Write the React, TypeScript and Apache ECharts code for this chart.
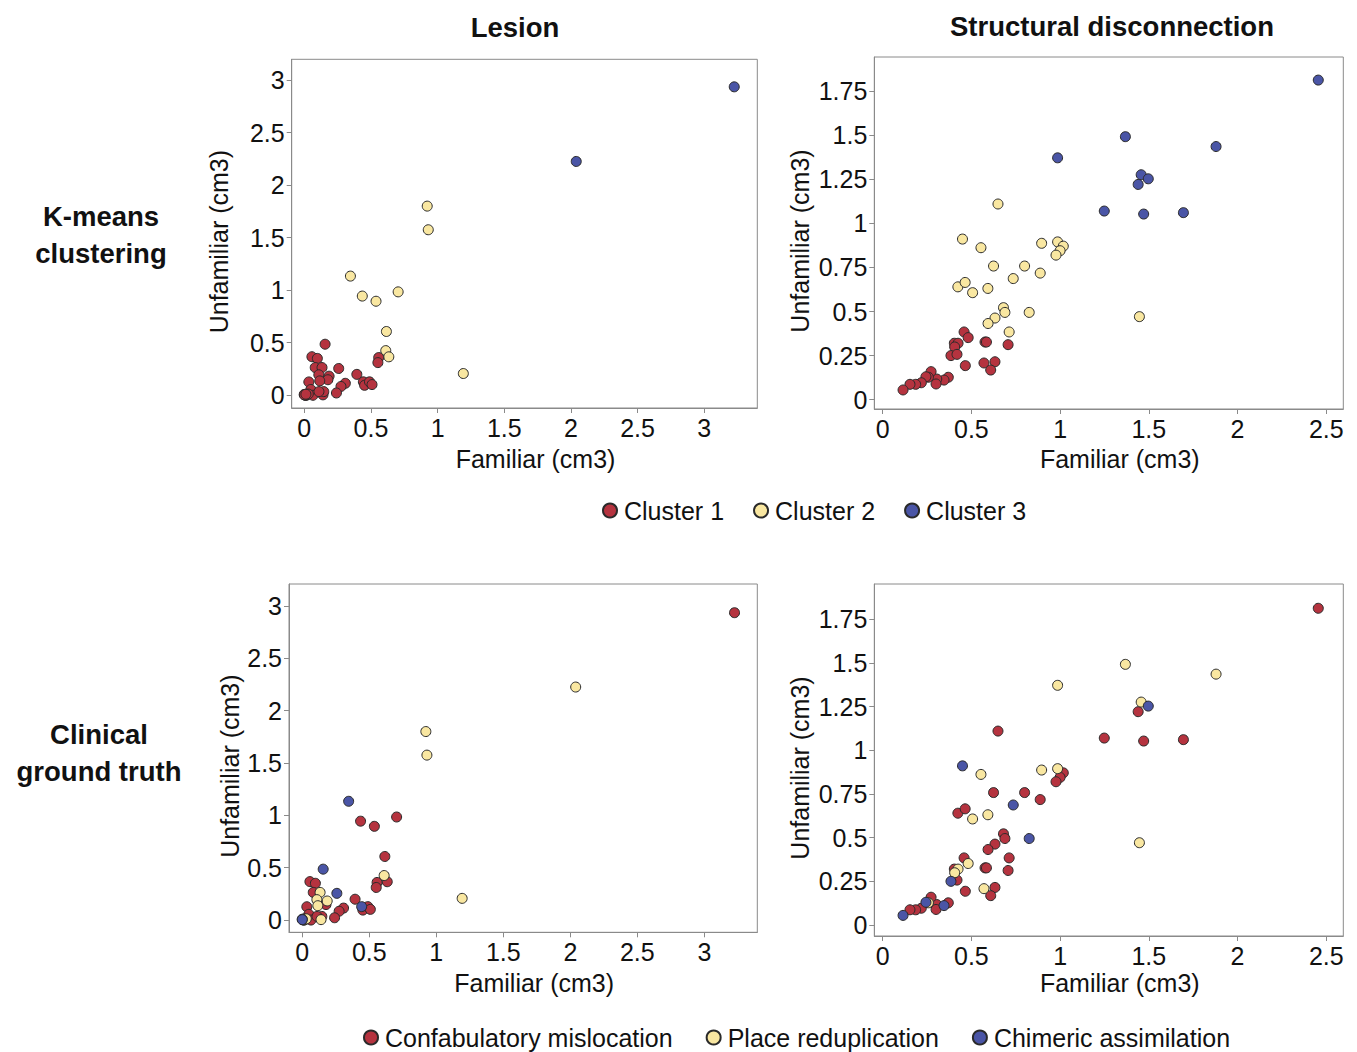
import React, { useEffect, useRef } from "react";
import * as echarts from "echarts";

// ---- Categories ----
const clusterNames = ["Cluster 1", "Cluster 2", "Cluster 3"];
const clinicalNames = ["Confabulatory mislocation", "Place reduplication", "Chimeric assimilation"];
const classColors = ["#B5333F", "#F9E7A1", "#4A55A6"];

// ---- Lesion (cm3) ----
const lesionFamiliar = [
  3.225, 2.04, 0.922, 0.93, 0.346, 0.435, 0.538, 0.704, 0.616, 0.611, 0.634, 1.193,
  0.558, 0.552, 0.156, 0.057, 0.098, 0.082, 0.133, 0.258, 0.109, 0.186, 0.177, 0.116,
  0.034, 0.394, 0.443, 0.452, 0.489, 0.508, 0.308, 0.275, 0.241, 0.049, 0.0, 0.015,
  0.065, 0.14, 0.146, 0.11, 0.005, 0.02, 0.01, 0.03, 0.0, 0.012,
];
const lesionUnfamiliar = [
  2.935, 2.225, 1.8, 1.575, 1.134, 0.944, 0.895, 0.984, 0.607, 0.425, 0.366, 0.207,
  0.359, 0.311, 0.486, 0.367, 0.351, 0.264, 0.264, 0.255, 0.195, 0.182, 0.148, 0.137,
  0.127, 0.199, 0.128, 0.095, 0.128, 0.102, 0.114, 0.084, 0.022, 0.055, 0.008, 0.0,
  0.0, 0.004, 0.035, 0.035, 0.002, 0.006, 0.0, 0.012, 0.004, 0.01,
];
const lesionCluster = [
  3, 3, 2, 2, 2, 2, 2, 2, 2, 2, 2, 2,
  1, 1, 1, 1, 1, 1, 1, 1, 1, 1, 1, 1,
  1, 1, 1, 1, 1, 1, 1, 1, 1, 1, 1, 1,
  1, 1, 1, 1, 1, 1, 1, 1, 1, 1,
];
const lesionClinical = [
  1, 2, 2, 2, 3, 1, 1, 1, 1, 2, 1, 2,
  1, 1, 3, 1, 1, 1, 2, 3, 2, 2, 1, 2,
  1, 1, 3, 1, 1, 1, 1, 1, 1, 1, 3, 1,
  1, 2, 1, 1, 1, 2, 1, 2, 3, 1,
];

// ---- Structural disconnection (cm3) ----
const discFamiliar = [
  2.455, 1.368, 1.879, 0.986, 1.457, 1.497, 1.44, 1.249, 1.471, 1.695,
  0.65, 0.45, 0.554, 0.896, 0.986, 1.018, 1.0, 0.977, 0.625, 0.8, 0.888, 0.736,
  0.424, 0.465, 0.507, 0.593, 0.681, 0.689, 0.826, 1.447, 0.633, 0.594, 0.713,
  0.459, 0.482, 0.404, 0.425, 0.406, 0.577, 0.585, 0.707, 0.385, 0.419, 0.466, 0.571,
  0.633, 0.609, 0.37, 0.346, 0.305, 0.273, 0.258, 0.244, 0.301, 0.218, 0.186, 0.154, 0.115,
];
const discUnfamiliar = [
  1.813, 1.492, 1.436, 1.372, 1.276, 1.253, 1.221, 1.07, 1.053, 1.061,
  1.11, 0.911, 0.862, 0.887, 0.895, 0.871, 0.845, 0.82, 0.758, 0.758, 0.718, 0.687,
  0.64, 0.665, 0.607, 0.631, 0.522, 0.495, 0.495, 0.471, 0.463, 0.432, 0.384,
  0.384, 0.352, 0.32, 0.32, 0.299, 0.327, 0.327, 0.312, 0.25, 0.257, 0.193, 0.208,
  0.215, 0.168, 0.127, 0.111, 0.117, 0.159, 0.127, 0.13, 0.089, 0.096, 0.087, 0.087, 0.055,
];
const discCluster = [
  3, 3, 3, 3, 3, 3, 3, 3, 3, 3,
  2, 2, 2, 2, 2, 2, 2, 2, 2, 2, 2, 2,
  2, 2, 2, 2, 2, 2, 2, 2, 2, 2, 2,
  1, 1, 1, 1, 1, 1, 1, 1, 1, 1, 1, 1,
  1, 1, 1, 1, 1, 1, 1, 1, 1, 1, 1, 1, 1,
];
const discClinical = [
  1, 2, 2, 2, 2, 3, 1, 1, 1, 1,
  1, 3, 2, 2, 2, 1, 1, 1, 1, 1, 1, 3,
  1, 1, 2, 2, 1, 1, 3, 2, 1, 1, 1,
  1, 2, 1, 2, 2, 1, 1, 1, 3, 1, 1, 2,
  1, 1, 1, 3, 1, 1, 2, 3, 1, 1, 1, 1, 3,
];

// ---- Tick labels ----
const lesionTicks = [0, 0.5, 1, 1.5, 2, 2.5, 3];
const discXTicks = [0, 0.5, 1, 1.5, 2, 2.5];
const discYTicks = [0, 0.25, 0.5, 0.75, 1, 1.25, 1.5, 1.75];

const FONT = "'Liberation Sans', Arial, Helvetica, sans-serif";
const AXIS_GRAY = "#8a8a8a";

function pick(xs: number[], ys: number[], cls: number[], k: number) {
  const out: number[][] = [];
  for (let i = 0; i < xs.length; i++) if (cls[i] === k) out.push([xs[i], ys[i]]);
  return out;
}

export default function App() {
  const ref = useRef<HTMLDivElement>(null);
  useEffect(() => {
    if (!ref.current) return;
    const chart = echarts.init(ref.current, undefined, { renderer: "svg" });

    const grids = [
      { left: 291.7, top: 59.3, width: 465.6, height: 348.7 },
      { left: 874.3, top: 57, width: 469, height: 352 },
      { left: 289, top: 584, width: 468.3, height: 348.3 },
      { left: 874.3, top: 584, width: 469, height: 352 },
    ].map((g) => ({ ...g, show: true, borderColor: AXIS_GRAY, borderWidth: 1, containLabel: false }));

    const axisCommon = {
      type: "value" as const,
      nameLocation: "middle" as const,
      axisLine: { show: true, onZero: false, lineStyle: { color: AXIS_GRAY, width: 1 } },
      splitLine: { show: false },
    };

    const xRanges = [
      [-0.0945, 3.398, lesionTicks, 38],
      [-0.047, 2.596, discXTicks, 37],
      [-0.099, 3.395, lesionTicks, 38],
      [-0.047, 2.596, discXTicks, 34],
    ];
    const yRanges = [
      [-0.121, 3.197, lesionTicks, 60],
      [-0.053, 1.944, discYTicks, 62],
      [-0.117, 3.209, lesionTicks, 47],
      [-0.063, 1.952, discYTicks, 62],
    ];

    const labelStyle = { fontSize: 25, color: "#111", fontFamily: FONT };

    const xAxis = xRanges.map((r, i) => ({
      ...axisCommon,
      gridIndex: i,
      min: r[0] as number,
      max: r[1] as number,
      name: "Familiar (cm3)",
      nameGap: r[3] as number,
      nameTextStyle: { ...labelStyle, padding: [0, 0, 0, 22] },
      axisTick: { show: true, length: 5, lineStyle: { color: AXIS_GRAY }, customValues: r[2] as number[] },
      axisLabel: { ...labelStyle, margin: 7, customValues: r[2] as number[] },
    }));
    const yAxis = yRanges.map((r, i) => ({
      ...axisCommon,
      gridIndex: i,
      min: r[0] as number,
      max: r[1] as number,
      name: "Unfamiliar (cm3)",
      nameGap: r[3] as number,
      nameTextStyle: { ...labelStyle, padding: [0, 16, 0, 0] },
      axisTick: { show: true, length: 5, lineStyle: { color: AXIS_GRAY }, customValues: r[2] as number[] },
      axisLabel: { ...labelStyle, margin: 7, customValues: r[2] as number[] },
    }));

    const panels = [
      { xs: lesionFamiliar, ys: lesionUnfamiliar, cls: lesionCluster, names: clusterNames },
      { xs: discFamiliar, ys: discUnfamiliar, cls: discCluster, names: clusterNames },
      { xs: lesionFamiliar, ys: lesionUnfamiliar, cls: lesionClinical, names: clinicalNames },
      { xs: discFamiliar, ys: discUnfamiliar, cls: discClinical, names: clinicalNames },
    ];

    const series: any[] = [];
    panels.forEach((p, gi) => {
      [1, 2, 3].forEach((k) => {
        series.push({
          type: "scatter",
          name: p.names[k - 1],
          xAxisIndex: gi,
          yAxisIndex: gi,
          symbol: "circle",
          symbolSize: 10,
          data: pick(p.xs, p.ys, p.cls, k),
          itemStyle: { color: classColors[k - 1], borderColor: "#2a2a2a", borderWidth: 1, opacity: 1 },
          emphasis: { disabled: true },
        });
      });
    });

    const legendCommon = {
      orient: "horizontal" as const,
      icon: "circle",
      itemWidth: 14,
      itemHeight: 14,
      padding: 0,
      selectedMode: false,
      textStyle: { fontSize: 25, color: "#111", fontFamily: FONT, padding: [0, 0, 0, 2] },
    };

    chart.setOption({
      animation: false,
      backgroundColor: "#ffffff",
      grid: grids,
      xAxis,
      yAxis,
      series,
      legend: [
        { ...legendCommon, itemGap: 29, data: clusterNames, left: 602, top: 498 },
        { ...legendCommon, itemGap: 33, data: clinicalNames, left: 363, top: 1025 },
      ],
      graphic: [
        {
          type: "text",
          x: 515,
          y: 27,
          style: { text: "Lesion", font: `bold 27.5px ${FONT}`, fill: "#111", textAlign: "center", textVerticalAlign: "middle" },
        },
        {
          type: "text",
          x: 1112,
          y: 26,
          style: { text: "Structural disconnection", font: `bold 27.5px ${FONT}`, fill: "#111", textAlign: "center", textVerticalAlign: "middle" },
        },
        {
          type: "text",
          x: 101,
          y: 235,
          style: { text: "K-means\nclustering", font: `bold 27.5px ${FONT}`, lineHeight: 37, fill: "#111", textAlign: "center", textVerticalAlign: "middle" },
        },
        {
          type: "text",
          x: 99,
          y: 753,
          style: { text: "Clinical\nground truth", font: `bold 27.5px ${FONT}`, lineHeight: 37, fill: "#111", textAlign: "center", textVerticalAlign: "middle" },
        },
      ],
    });
    return () => chart.dispose();
  }, []);
  return <div ref={ref} style={{ position: "fixed", left: 0, top: 0, width: 1357, height: 1052, background: "#fff" }} />;
}
